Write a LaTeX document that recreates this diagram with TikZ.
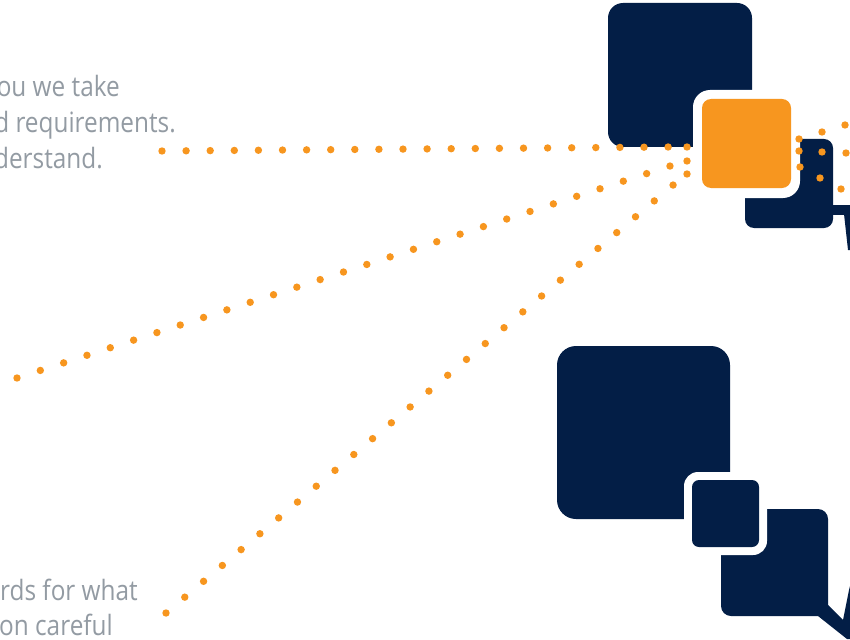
\documentclass[tikz,border=0pt]{standalone}
\usepackage{fontspec}
\setmainfont{Open Sans}[FakeStretch=0.87]
\definecolor{navy}{HTML}{031E46}
\definecolor{orng}{HTML}{F7961F}
\definecolor{txtgray}{HTML}{939BA3}
\tikzset{
  dotc/.style={fill=orng},
  txt/.style={text=txtgray, font=\fontsize{28}{32}\selectfont, inner sep=0pt, anchor=base east},
  navybox/.style={fill=navy},
}
\begin{document}
\begin{tikzpicture}[x=1pt,y=-1pt]
\useasboundingbox (0,0) rectangle (850,639);
\clip (0,0) rectangle (850,639);
\fill[white] (0,0) rectangle (850,639);
% texts
\node[txt] (ta) at (120,97) {ou we take};
\node[txt] (tb) at (176,133) {d requirements.};
\node[txt] (tc) at (103,168) {derstand.};
\node[txt] (td) at (138,600) {rds for what};
\node[txt] (te) at (113,635) {on careful};
% top cluster
\fill[navybox, rounded corners=15pt] (608,3) rectangle (752,147);
\fill[navybox, rounded corners=9pt] (745,139) rectangle (833,228);
\fill[navybox] (830,205) rectangle (850,215);
\fill[navybox] (844,214) -- (850,214) -- (850,250) -- (848,250) -- cycle;
\fill[white, rounded corners=17pt] (693,90) rectangle (800,198);
\fill[orng, rounded corners=9pt] (702,99) rectangle (791,188);
% bottom cluster
\fill[navybox, rounded corners=19pt] (557,346) rectangle (730,519);
\fill[navybox, rounded corners=10pt] (721,509) rectangle (828,616);
\fill[navybox] (818,616) -- (828,605) -- (843,620) -- (849,590) -- (850,586) -- (850,639) -- (847,639) -- cycle;
\fill[white, rounded corners=14pt] (684,472) rectangle (767,555);
\fill[navybox, rounded corners=7pt] (692,480) rectangle (759,547);
% dotted lines
\foreach \i in {0,...,21} \fill[dotc] ({162+24.1*\i},{151-0.19*\i}) circle (3.7pt);
\foreach \i in {0,...,28} \fill[dotc] ({17+23.32*\i},{378-7.57*\i}) circle (3.7pt);
\foreach \i in {0,...,27} \fill[dotc] ({166+18.78*\i},{613-15.85*\i}) circle (3.7pt);
\fill[dotc] (687,147) circle (3.7pt);
\fill[dotc] (687,161) circle (3.7pt);
\fill[dotc] (687,174) circle (3.7pt);
% right dots
\fill[dotc] (799,139) circle (3.7pt);
\fill[dotc] (822,132) circle (3.7pt);
\fill[dotc] (845,125) circle (3.7pt);
\fill[dotc] (799,151) circle (3.7pt);
\fill[dotc] (822,152) circle (3.7pt);
\fill[dotc] (846,153) circle (3.7pt);
\fill[dotc] (800,167) circle (3.7pt);
\fill[dotc] (820,178) circle (3.7pt);
\fill[dotc] (841,189) circle (3.7pt);
\end{tikzpicture}
\end{document}
